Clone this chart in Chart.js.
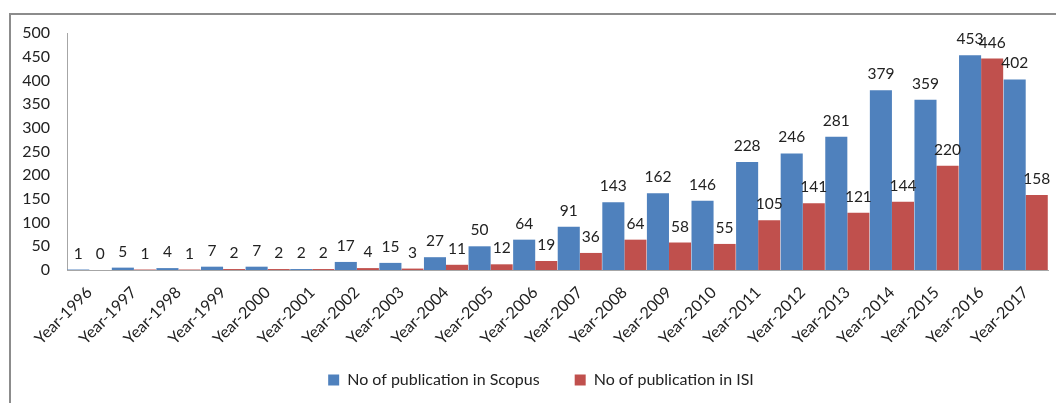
<!DOCTYPE html>
<html>
<head>
<meta charset="utf-8">
<script src="https://cdn.jsdelivr.net/npm/chart.js@4"></script>
<style>
  html, body { margin: 0; padding: 0; background: #fff; }
  #wrap { position: relative; width: 1056px; height: 403px; overflow: hidden; }
  #frame {
    position: absolute; left: 9px; top: 13px; right: -10px; bottom: -10px;
    border-top: 2px solid #8c8c8c; border-left: 2px solid #8c8c8c;
  }
  #chart { position: absolute; left: 0; top: 0; }
</style>
</head>
<body>
<div id="wrap">
  <div id="frame"></div>
  <canvas id="chart" width="1056" height="403"></canvas>
</div>
<script>
// Publication counts per year

let years = [
  "Year-1996", "Year-1997", "Year-1998", "Year-1999", "Year-2000", "Year-2001",
  "Year-2002", "Year-2003", "Year-2004", "Year-2005", "Year-2006", "Year-2007",
  "Year-2008", "Year-2009", "Year-2010", "Year-2011", "Year-2012", "Year-2013",
  "Year-2014", "Year-2015", "Year-2016", "Year-2017",
];

let scopusCounts = [1, 5, 4, 7, 7, 2, 17, 15, 27, 50, 64, 91, 143, 162, 146, 228, 246, 281, 379, 359, 453, 402];
let isiCounts = [0, 1, 1, 2, 2, 2, 4, 3, 11, 12, 19, 36, 64, 58, 55, 105, 141, 121, 144, 220, 446, 158];

let seriesNames = ["No of publication in Scopus", "No of publication in ISI"];
let seriesColors = ["#4F81BD", "#C0504D"];

let fontFamily = "Lato, 'Open Sans', sans-serif";

// Writes each bar's value just above it
let valueLabels = {
  id: "valueLabels",
  afterDatasetsDraw(chart) {
    let ctx = chart.ctx;
    ctx.save();
    ctx.font = "15.5px " + fontFamily;
    ctx.fillStyle = "#222";
    ctx.textAlign = "center";
    ctx.textBaseline = "alphabetic";
    chart.data.datasets.forEach(function (ds, i) {
      let meta = chart.getDatasetMeta(i);
      meta.data.forEach(function (bar, j) {
        ctx.fillText(String(ds.data[j]), bar.x, bar.y - 11);
      });
    });
    ctx.restore();
  },
};

// Moves the legend a little right and up, like the original
let legendShift = {
  id: "legendShift",
  afterLayout(chart) {
    let lg = chart.legend;
    if (lg) {
      lg.left += 17;
      lg.right += 17;
      lg.top -= 15;
      lg.bottom -= 15;
    }
  },
};

let ctx = document.getElementById("chart").getContext("2d");

new Chart(ctx, {
  type: "bar",
  data: {
    labels: years,
    datasets: [
      {
        label: seriesNames[0],
        data: scopusCounts,
        backgroundColor: seriesColors[0],
        categoryPercentage: 0.99,
        barPercentage: 1.0,
      },
      {
        label: seriesNames[1],
        data: isiCounts,
        backgroundColor: seriesColors[1],
        categoryPercentage: 0.99,
        barPercentage: 1.0,
      },
    ],
  },
  options: {
    responsive: false,
    animation: false,
    layout: { padding: { top: 33, right: 8, bottom: -10, left: 0 } },
    plugins: {
      legend: {
        position: "bottom",
        labels: {
          boxWidth: 11,
          boxHeight: 11,
          padding: 35,
          color: "#222",
          font: { family: fontFamily, size: 16 },
        },
      },
      tooltip: { enabled: false },
    },
    scales: {
      x: {
        grid: { display: false, drawTicks: false },
        border: { display: true, color: "#a6a6a6", width: 1 },
        ticks: {
          autoSkip: false,
          minRotation: 45,
          maxRotation: 45,
          padding: 13,
          color: "#222",
          font: { family: fontFamily, size: 16 },
        },
        afterFit(scale) {
          scale.height = 82;
        },
      },
      y: {
        min: 0,
        max: 500,
        grid: { display: false, drawTicks: false },
        border: { display: true, color: "#a6a6a6", width: 1 },
        ticks: {
          stepSize: 50,
          padding: 17,
          color: "#222",
          font: { family: fontFamily, size: 16 },
        },
        afterFit(scale) {
          scale.width = 67;
        },
      },
    },
  },
  plugins: [valueLabels, legendShift],
});
</script>
</body>
</html>
